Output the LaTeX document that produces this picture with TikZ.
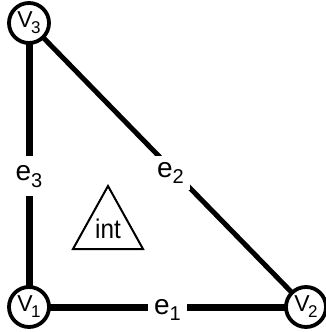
\documentclass[tikz,border=0pt]{standalone}
\usepackage{fontspec}
\setmainfont{Liberation Sans}
\newcommand{\lbl}[2]{#1\raisebox{-0.45ex}{\fontsize{20}{20}\selectfont #2}}
\newcommand{\vlbl}[2]{#1\kern-1.5pt\raisebox{-0.5ex}{\fontsize{17}{17}\selectfont #2}}
\tikzset{
  vert/.style={circle, draw, line width=3.8pt, fill=white, minimum size=40pt, inner sep=0pt, font=\fontsize{23}{23}\selectfont},
  heavy/.style={line width=7pt},
  diag/.style={line width=5pt},
  elabel/.style={fill=white, inner sep=4pt, font=\fontsize{28}{28}\selectfont},
  tri/.style={draw, line width=2pt, line join=miter}
}
\begin{document}
\begin{tikzpicture}[x=1pt,y=-1pt]
\useasboundingbox (0,0) rectangle (325,332);
\coordinate (p1) at (29,307);
\coordinate (p2) at (306,307);
\coordinate (p3) at (29,23);
\draw[heavy] (p3) -- (p1) node[elabel, pos=0.54, inner ysep=9pt] (e3) {\lbl{e}{3}};
\draw[heavy] (p1) -- (p2) node[elabel, pos=0.5, inner xsep=6pt, yshift=-3pt] (e1) {\lbl{e}{1}};
\draw[diag] (p3) -- (p2) node[elabel, pos=0.5, inner sep=6pt, xshift=3pt, yshift=-8pt] (e2) {\lbl{e}{2}};
\node[vert] (v1) at (p1) {\vlbl{V}{1}};
\node[vert] (v2) at (p2) {\vlbl{V}{2}};
\node[vert] (v3) at (p3) {\vlbl{V}{3}};
\coordinate (ta) at (108,186);
\coordinate (tb) at (73,249);
\coordinate (tc) at (143,249);
\draw[tri] (ta) -- (tb) -- (tc) -- cycle;
\node[font=\fontsize{27}{27}\selectfont, inner sep=0pt, xscale=0.9] (int) at (108,229) {int};
\end{tikzpicture}
\end{document}
